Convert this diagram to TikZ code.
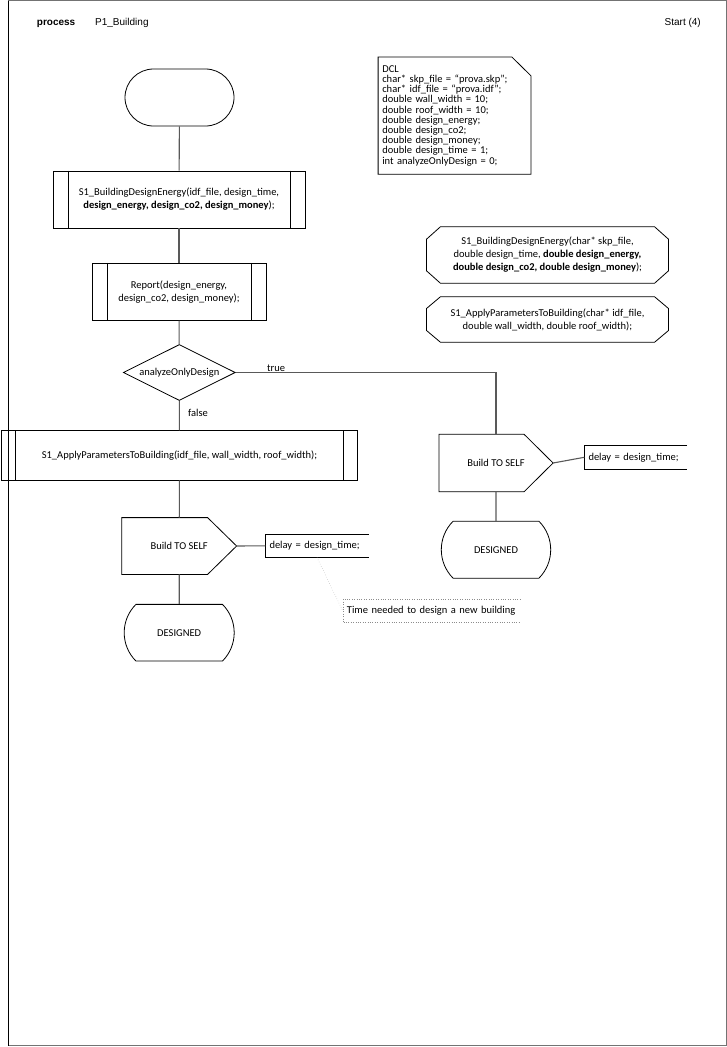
\documentclass[tikz,border=0pt]{standalone}
\usepackage{fontspec}
\setmainfont{Carlito}
\newfontfamily\hdrfont{Liberation Sans}
\usetikzlibrary{shapes.misc,shapes.geometric}

\begin{document}
\begin{tikzpicture}[x=1pt, y=-1pt, font=\fontsize{10.5}{13}\selectfont,
 shape node/.style={draw, line width=0.8pt, inner sep=2pt, align=center},
 start node/.style={shape node, rounded rectangle, minimum width=113pt, minimum height=57pt},
 state node/.style={shape node, rounded rectangle, rounded rectangle arc length=90, minimum width=114pt, minimum height=57pt},
 call node/.style={shape node, rectangle, minimum height=57pt},
 ask node/.style={shape node, diamond, aspect=2, inner sep=0pt, minimum width=112pt, minimum height=56pt},
 send node/.style={shape node, draw=none, minimum width=114pt, minimum height=56pt},
 task node/.style={inner sep=4pt, minimum height=23pt, anchor=west, align=left, text width=#1},
 head node/.style={align=center, inner sep=0pt},
 tag node/.style={inner sep=0pt, anchor=base west},
 link/.style={line width=1.1pt, draw=black!65}]
\useasboundingbox (0,0) rectangle (727,1047);
% frame and title
\draw[black!55, line width=1pt] (8.5,0.5) rectangle (726,1045.5);
\draw[line width=1pt] (8.5,0.5) -- (8.5,1045.5);
\node[tag node, anchor=base east, font=\hdrfont\fontsize{10}{12}\selectfont\bfseries] (t1) at (75.5,25.5) {process};
\node[tag node, font=\hdrfont\fontsize{10}{12}\selectfont] (t2) at (95,25.5) {P1\_Building};
\node[inner sep=0pt, anchor=base east, font=\hdrfont\fontsize{10}{12}\selectfont] (t3) at (701,25.5) {Start (4)};

% main flow
\node[start node] (1) at (179.5,97.5) {};
\node[call node, minimum width=252pt] (2) at (179,199.5) {S1\_BuildingDesignEnergy(idf\_file, design\_time,\\ \textbf{design\_energy, design\_co2, design\_money});};
\node[call node, minimum width=174pt] (3) at (179,291.7) {Report(design\_energy,\\ design\_co2, design\_money);};
\node[ask node] (4) at (179.3,372.5) {analyzeOnlyDesign};
\node[call node, minimum width=355.6pt, minimum height=49.3pt] (5) at (179.5,455.3) {S1\_ApplyParametersToBuilding(idf\_file, wall\_width, roof\_width);};
\node[send node] (6) at (179.2,546) {Build TO SELF};
\node[state node, minimum height=56.7pt] (7) at (179.2,632.7) {DESIGNED};
\node[task node=95pt] (8) at (265.3,545.8) {delay = design\_time;};
\node[task node=169pt] (9) at (342.7,610.8) {Time needed to design a new building};

% true branch
\node[send node, minimum width=113.4pt, minimum height=56.6pt] (10) at (496,463) {Build TO SELF};
\node[state node, minimum width=113.4pt] (11) at (496,549.7) {DESIGNED};
\node[task node=94.4pt] (12) at (584.3,457.3) {delay = design\_time;};

% declarations and procedure headings
\node[task node=144.4pt, anchor=center, minimum height=116.7pt, font=\fontsize{10.5}{10.2}\selectfont] (13) at (454.5,115.6) {DCL\\
char* skp\_file = “prova.skp”;\\
char* idf\_file = “prova.idf”;\\
double wall\_width = 10;\\
double roof\_width = 10;\\
double design\_energy;\\
double design\_co2;\\
double design\_money;\\
double design\_time = 1;\\
int analyzeOnlyDesign = 0;};
\node[head node] (14) at (547.5,255) {S1\_BuildingDesignEnergy(char* skp\_file,\\ double design\_time, \textbf{double design\_energy,}\\ \textbf{double design\_co2, double design\_money});};
\node[head node] (15) at (547.5,319.5) {S1\_ApplyParametersToBuilding(char* idf\_file,\\ double wall\_width, double roof\_width);};

\node[tag node] (16) at (267,371.5) {true};
\node[tag node] (17) at (188,416.5) {false};

% outlines
\foreach \n/\d in {2/15.5, 3/15.4, 5/14.5}
  \draw[line width=0.8pt] ([xshift=\d]\n.north west) -- ([xshift=\d]\n.south west)
    ([xshift=-\d]\n.north east) -- ([xshift=-\d]\n.south east);
\foreach \n in {6,10}
  \draw[line width=0.8pt] (\n.north west) -- ([xshift=-29]\n.north east) -- (\n.east)
    -- ([xshift=-29]\n.south east) -- (\n.south west) -- cycle;
\foreach \n in {8,12}
  \draw[line width=0.8pt] (\n.north east) -- (\n.north west) -- (\n.south west) -- (\n.south east);
\draw[dotted, black!45] (9.north east) -- (9.north west) -- (9.south west) -- (9.south east);
\draw[line width=0.8pt] (13.north west) -- ([xshift=-19]13.north east) -- ([shift={(0,18.7)}]13.north east)
  -- (13.south east) -- (13.south west) -- cycle;
\foreach \n/\h/\c in {14/28.3/15.8, 15/22.8/11}
  \draw[line width=0.8pt] ([shift={(-107,-\h)}]\n.center) -- ([shift={(107,-\h)}]\n.center)
    -- ([shift={(121,-\c)}]\n.center) -- ([shift={(121,\c)}]\n.center)
    -- ([shift={(107,\h)}]\n.center) -- ([shift={(-107,\h)}]\n.center)
    -- ([shift={(-121,\c)}]\n.center) -- ([shift={(-121,-\c)}]\n.center) -- cycle;

% connectors
\path[link]
(1) edge (2)
(2) edge (3)
(3) edge (4)
(4) edge (5)
(5) edge (6)
(6) edge (7)
(10) edge (11)
(6.east) edge (8.west)
(10.east) edge (12.west);
\draw[link] (4.east) -| (10.north);
\draw[dotted, black!40] (8.south) -- (9.west);
\end{tikzpicture}
\end{document}
